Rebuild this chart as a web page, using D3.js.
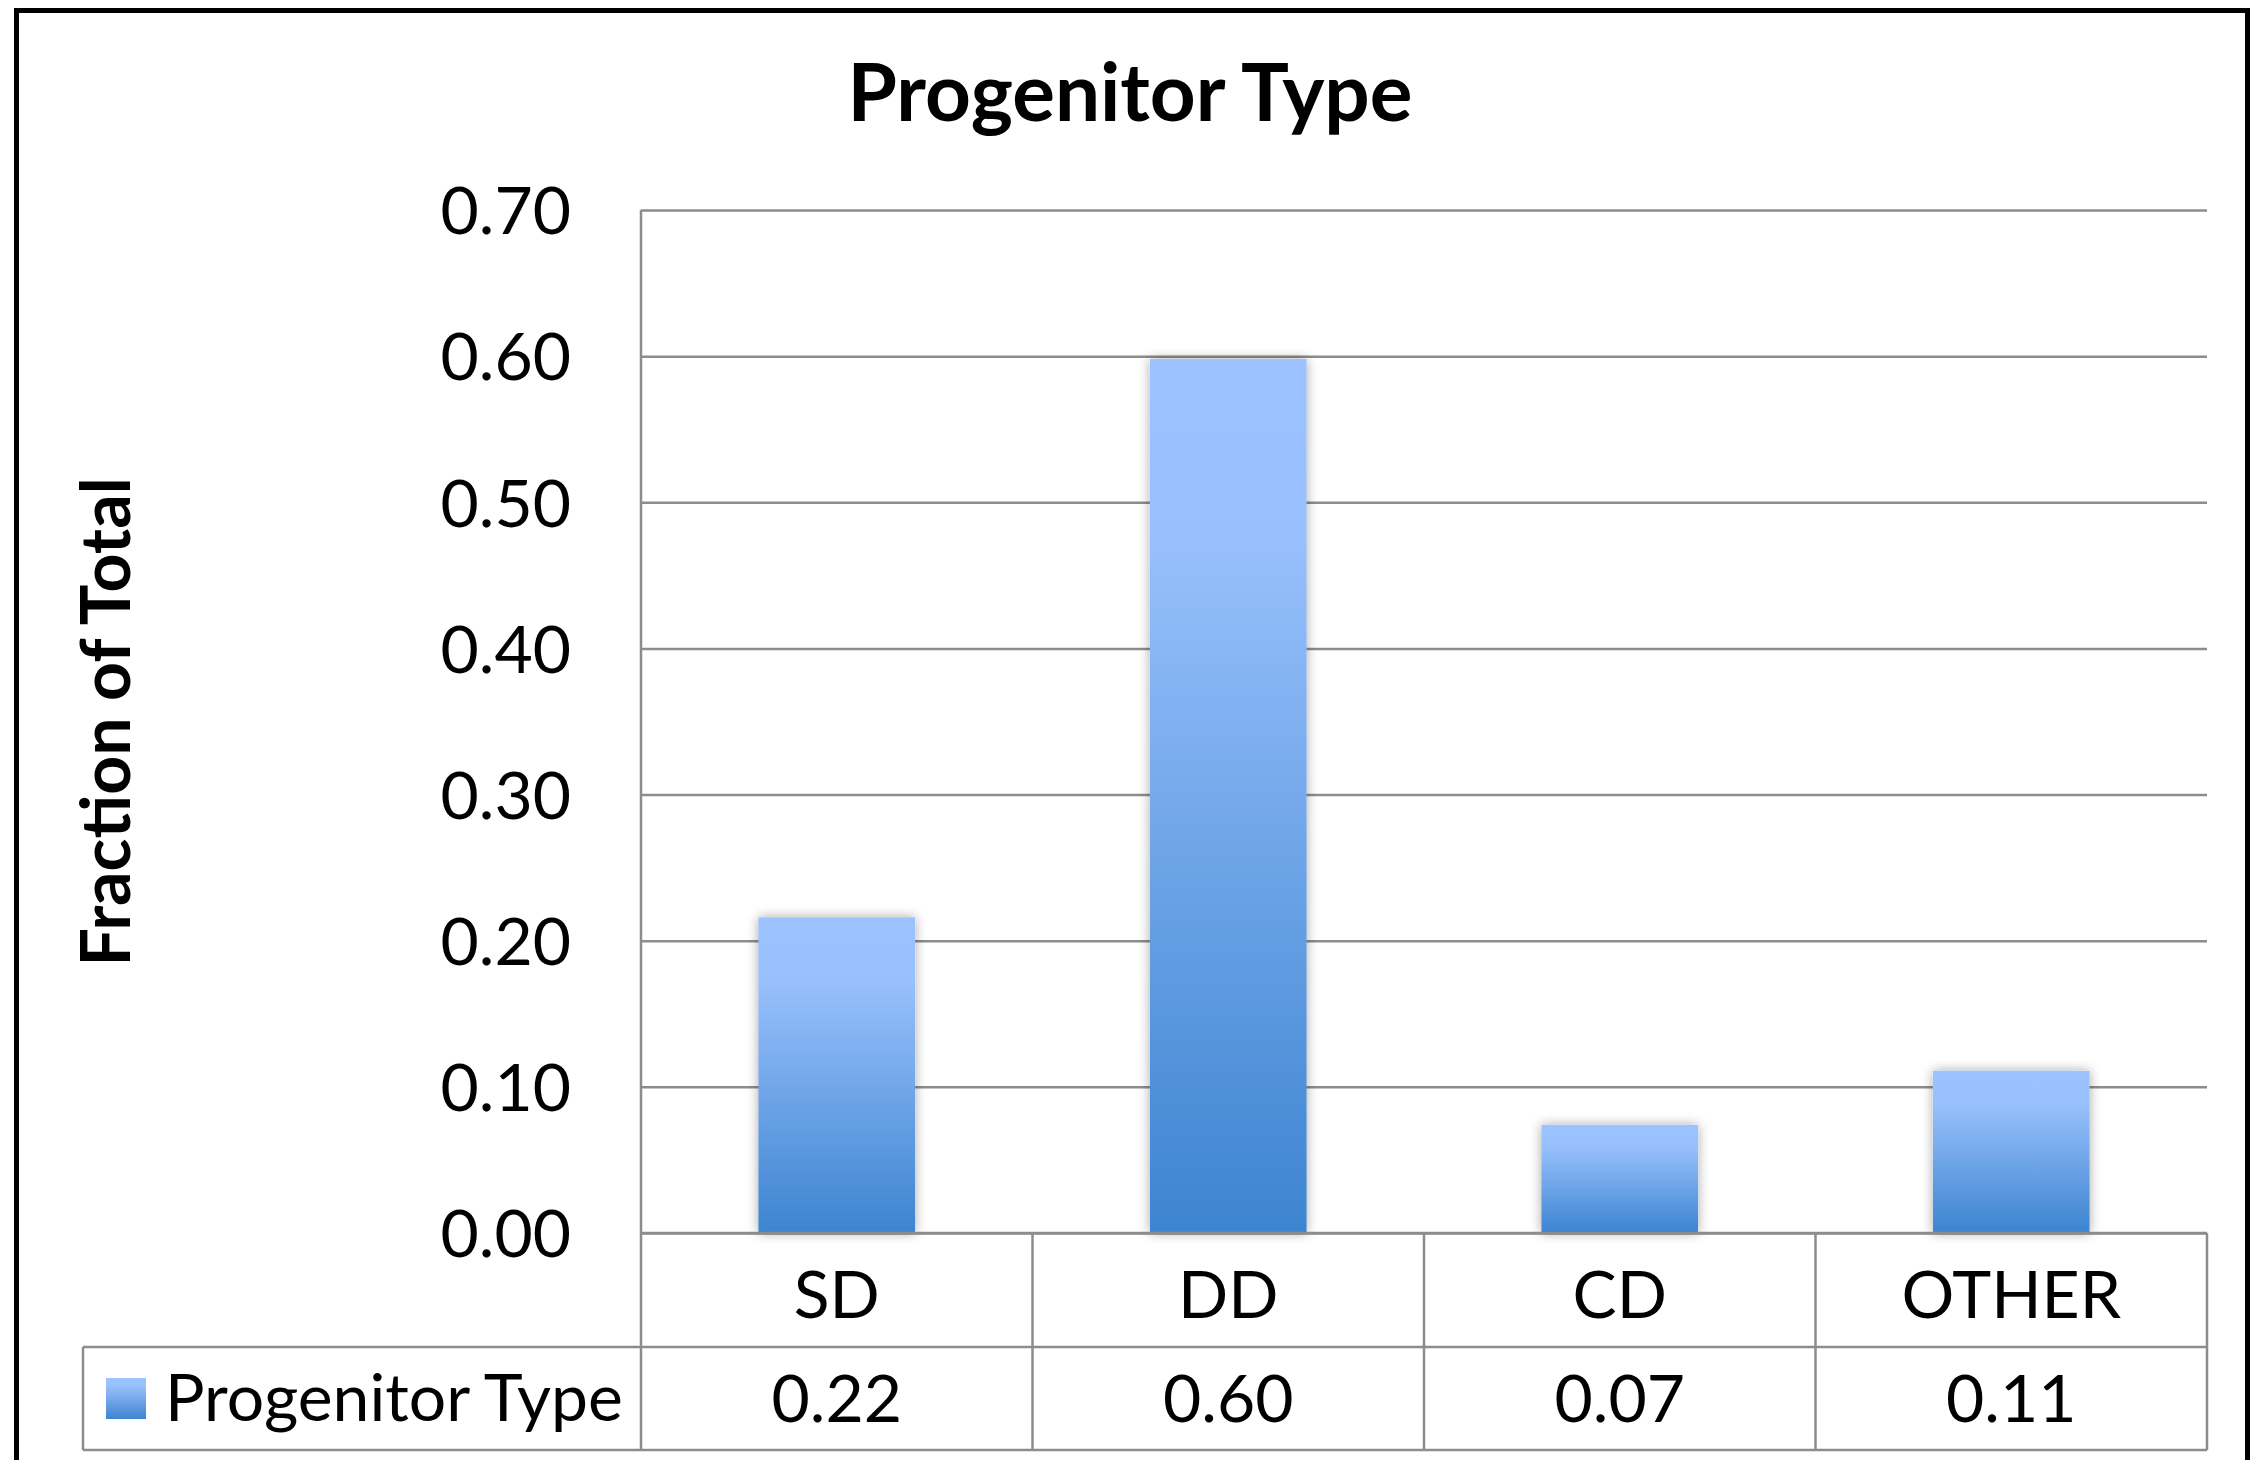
<!DOCTYPE html>
<html lang="en">
<head>
<meta charset="utf-8">
<title>Progenitor Type</title>
<script src="https://d3js.org/d3.v7.min.js"></script>
<style>
    body {
        margin: 0;
        background: white;
    }
    svg {
        display: block;
        font-family: Lato, "Open Sans", sans-serif;
    }
    .grid line {
        stroke: #8c8c8c;
        stroke-width: 2.5;
    }
    .grid path {
        display: none;
    }
    .tick-labels path,
    .tick-labels line {
        display: none;
    }
    .tick-labels text {
        font-family: Lato, sans-serif;
        font-size: 66px;
        fill: black;
    }
    .table line {
        stroke: #8c8c8c;
        stroke-width: 2.5;
    }
</style>
</head>
<body>
<div id="chart"></div>
<script>
    // chart data
    var categories = ["SD", "DD", "CD", "OTHER"];
    var fractions = [0.216, 0.598, 0.074, 0.111];
    var yTicks = [0, 0.1, 0.2, 0.3, 0.4, 0.5, 0.6, 0.7];
    var seriesName = "Progenitor Type";
    var chartTitle = "Progenitor Type";
    var yTitle = "Fraction of Total";

    var width = 2251;
    var height = 1460;

    // plot box (pixels)
    var plotLeft = 641, plotRight = 2207, plotTop = 210, plotBottom = 1233;
    var catRowBottom = 1347, valRowBottom = 1450;
    var legendLeft = 83;

    var svg = d3.select("#chart").append("svg")
        .attr("width", width)
        .attr("height", height);

    var defs = svg.append("defs");

    var grad = defs.append("linearGradient")
        .attr("id", "barFill")
        .attr("x1", 0).attr("y1", 0)
        .attr("x2", 0).attr("y2", 1);
    grad.append("stop").attr("offset", "0%").attr("stop-color", "#9cc3ff");
    grad.append("stop").attr("offset", "20%").attr("stop-color", "#98c0fc");
    grad.append("stop").attr("offset", "100%").attr("stop-color", "#3d84d0");

    var shadow = defs.append("filter")
        .attr("id", "barShadow")
        .attr("x", "-30%").attr("y", "-30%")
        .attr("width", "160%").attr("height", "160%");
    shadow.append("feDropShadow")
        .attr("dx", 0).attr("dy", 0)
        .attr("stdDeviation", 6)
        .attr("flood-color", "#000")
        .attr("flood-opacity", 0.35);

    // outer chart border
    svg.append("rect")
        .attr("x", 16.5)
        .attr("y", 10.5)
        .attr("width", 2231)
        .attr("height", 1480)
        .attr("fill", "white")
        .attr("stroke", "black")
        .attr("stroke-width", 5);

    var x = d3.scaleBand()
        .domain(categories)
        .range([plotLeft, plotRight])
        .paddingInner(0.6)
        .paddingOuter(0.3);

    var y = d3.scaleLinear()
        .domain([0, 0.7])
        .range([plotBottom, plotTop]);

    // gridlines
    svg.append("g")
        .attr("class", "grid")
        .attr("transform", "translate(" + plotLeft + ",0)")
        .call(d3.axisLeft(y)
            .tickValues(yTicks)
            .tickSize(-(plotRight - plotLeft))
            .tickFormat(""));

    // y tick labels
    svg.append("g")
        .attr("class", "tick-labels")
        .attr("transform", "translate(" + plotLeft + ",0)")
        .call(d3.axisLeft(y)
            .tickValues(yTicks)
            .tickSize(0)
            .tickPadding(70)
            .tickFormat(d3.format(".2f")))
        .selectAll("text")
        .attr("dy", "0.36em");

    // bars
    svg.append("g")
        .selectAll("rect")
        .data(fractions)
        .enter()
        .append("rect")
        .attr("x", function(d, i) { return x(categories[i]); })
        .attr("y", function(d) { return y(d); })
        .attr("width", x.bandwidth())
        .attr("height", function(d) { return y(0) - y(d); })
        .attr("fill", "url(#barFill)")
        .attr("filter", "url(#barShadow)");

    // data table
    var step = x.step();
    var cellLeft = function(c) { return x(c) - (step - x.bandwidth()) / 2; };
    var table = svg.append("g").attr("class", "table");

    table.append("line")
        .attr("x1", plotLeft).attr("x2", plotLeft)
        .attr("y1", plotTop).attr("y2", valRowBottom);
    table.append("line")
        .attr("x1", plotLeft).attr("x2", plotRight)
        .attr("y1", plotBottom).attr("y2", plotBottom);
    table.append("line")
        .attr("x1", legendLeft).attr("x2", plotRight)
        .attr("y1", catRowBottom).attr("y2", catRowBottom);
    table.append("line")
        .attr("x1", legendLeft).attr("x2", plotRight)
        .attr("y1", valRowBottom).attr("y2", valRowBottom);
    table.append("line")
        .attr("x1", legendLeft).attr("x2", legendLeft)
        .attr("y1", catRowBottom).attr("y2", valRowBottom);
    table.selectAll("line.col")
        .data(categories)
        .enter()
        .append("line")
        .attr("class", "col")
        .attr("x1", function(d) { return cellLeft(d) + step; })
        .attr("x2", function(d) { return cellLeft(d) + step; })
        .attr("y1", plotBottom)
        .attr("y2", valRowBottom);

    svg.append("g")
        .selectAll("text")
        .data(categories)
        .enter()
        .append("text")
        .attr("x", function(d) { return x(d) + x.bandwidth() / 2; })
        .attr("y", 1318)
        .attr("text-anchor", "middle")
        .attr("font-size", "66px")
        .text(function(d) { return d; });

    svg.append("g")
        .selectAll("text")
        .data(fractions)
        .enter()
        .append("text")
        .attr("x", function(d, i) { return x(categories[i]) + x.bandwidth() / 2; })
        .attr("y", 1422)
        .attr("text-anchor", "middle")
        .attr("font-size", "66px")
        .text(function(d) { return d3.format(".2f")(d); });

    // legend key in table
    svg.append("rect")
        .attr("x", 106)
        .attr("y", 1378)
        .attr("width", 40)
        .attr("height", 41)
        .attr("fill", "url(#barFill)");

    svg.append("text")
        .attr("x", 165)
        .attr("y", 1421)
        .attr("font-size", "66px")
        .text(seriesName);

    // titles
    svg.append("text")
        .attr("x", 1130)
        .attr("y", 121)
        .attr("text-anchor", "middle")
        .attr("font-size", "80px")
        .attr("font-weight", "bold")
        .text(chartTitle);

    svg.append("text")
        .attr("transform", "translate(130,722) rotate(-90)")
        .attr("text-anchor", "middle")
        .attr("font-size", "68px")
        .attr("font-weight", "bold")
        .text(yTitle);
</script>
</body>
</html>
